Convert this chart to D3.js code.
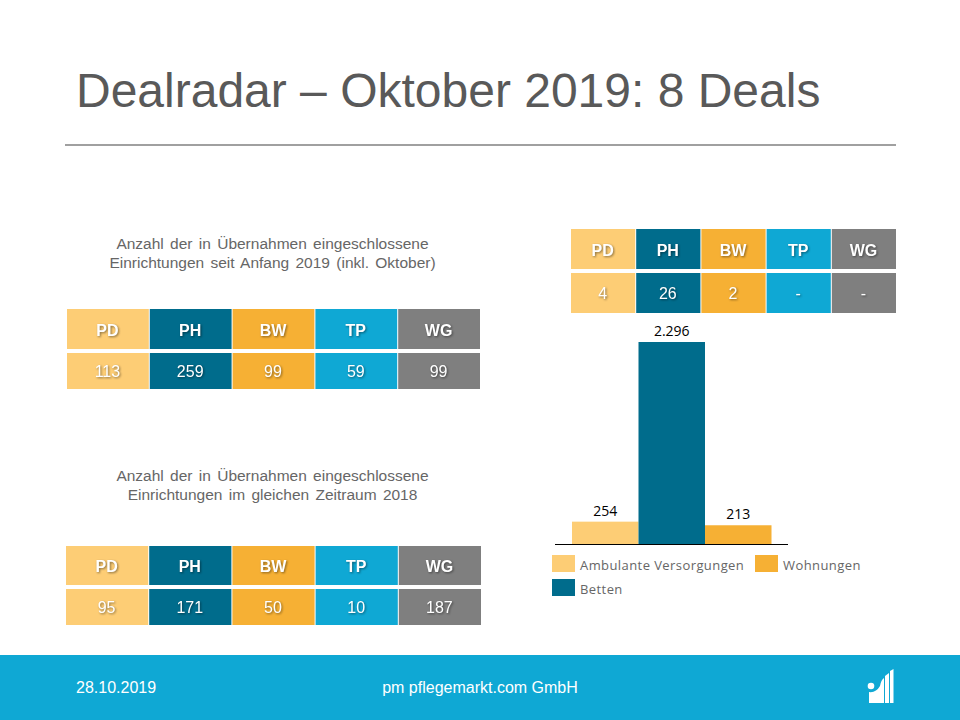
<!DOCTYPE html>
<html>
<head>
<meta charset="utf-8">
<script src="https://cdn.jsdelivr.net/npm/d3@7"></script>
<style>
  html, body { margin: 0; padding: 0; background: #fff; }
  svg { display: block; }
  text { font-family: "Liberation Sans", Arial, sans-serif; }
  .shadow { filter: drop-shadow(1px 1px 1px rgba(0,0,0,0.45)); }
</style>
</head>
<body>
<svg id="chart" width="960" height="720"></svg>
<script>
const categories = ["PD", "PH", "BW", "TP", "WG"];
const colors = ["#fdcd75", "#006c8c", "#f6b034", "#0fa8d4", "#7f7f7f"];

const values2019 = ["113", "259", "99", "59", "99"];
const values2018 = ["95", "171", "50", "10", "187"];
const valuesOctober = ["4", "26", "2", "-", "-"];

const barNames = ["Ambulante Versorgungen", "Betten", "Wohnungen"];
const barLabels = ["254", "2.296", "213"];
const barValues = [254, 2296, 213];
const barColors = ["#fdcd75", "#006c8c", "#f6b034"];

const svg = d3.select("#chart");

// footer and header
svg.append("rect").attr("x", 0).attr("y", 655).attr("width", 960).attr("height", 65).attr("fill", "#0fa8d4");

svg.append("text").attr("x", 76).attr("y", 107)
  .attr("font-size", 48).attr("fill", "#595959")
  .text("Dealradar – Oktober 2019: 8 Deals");

svg.append("line").attr("x1", 65).attr("x2", 896).attr("y1", 145).attr("y2", 145)
  .attr("stroke", "#808080").attr("stroke-width", 1.5);

svg.append("text").attr("x", 76).attr("y", 693).attr("font-size", 16).attr("fill", "#fff").text("28.10.2019");
svg.append("text").attr("x", 480).attr("y", 693).attr("text-anchor", "middle").attr("font-size", 16).attr("fill", "#fff").text("pm pflegemarkt.com GmbH");

// logo in the footer
const logo = svg.append("g").attr("fill", "#fff");
logo.append("circle").attr("cx", 871).attr("cy", 686).attr("r", 3.3);
logo.append("path").attr("d", "M869 703 L869 692 Q876 693 880 686 Q881 680 884 678 L884 703 Z");
logo.append("path").attr("d", "M885 703 L885 676 L889 673 L889 703 Z");
logo.append("path").attr("d", "M890 703 L890 671 L893.5 669 L893.5 703 Z");

// small table: header row and value row
function drawTable(x0, x1, headTop, headBottom, valueTop, valueBottom, values, headSize, valueSize) {
  const x = d3.scaleBand().domain(categories).range([x0, x1]);
  const g = svg.append("g");

  g.selectAll("rect.head").data(categories).enter().append("rect")
    .attr("class", "head")
    .attr("x", d => x(d)).attr("y", headTop)
    .attr("width", x.bandwidth() - 1).attr("height", headBottom - headTop)
    .attr("fill", (d, i) => colors[i]);

  g.selectAll("rect.value").data(categories).enter().append("rect")
    .attr("class", "value")
    .attr("x", d => x(d)).attr("y", valueTop)
    .attr("width", x.bandwidth() - 1).attr("height", valueBottom - valueTop)
    .attr("fill", (d, i) => colors[i]);

  g.selectAll("text.head").data(categories).enter().append("text")
    .attr("class", "head shadow")
    .attr("x", d => x(d) + x.bandwidth() / 2 - 1)
    .attr("y", (headTop + headBottom) / 2 + headSize * 0.36 + 1)
    .attr("text-anchor", "middle").attr("font-size", headSize).attr("font-weight", "bold")
    .attr("fill", "#fff").text(d => d);

  g.selectAll("text.value").data(values).enter().append("text")
    .attr("class", "value shadow")
    .attr("x", (d, i) => x(categories[i]) + x.bandwidth() / 2 - 1)
    .attr("y", (valueTop + valueBottom) / 2 + valueSize * 0.36)
    .attr("text-anchor", "middle").attr("font-size", valueSize)
    .attr("fill", "#fff").text(d => d);
}

drawTable(67, 481, 309, 349, 353, 389, values2019, 16, 16);
drawTable(66, 482, 546, 585, 589, 625, values2018, 16, 16);
drawTable(571, 897, 229, 269, 273, 313, valuesOctober, 16, 16);

// captions
function caption(lines, cx, y) {
  svg.append("g").selectAll("text").data(lines).enter().append("text")
    .attr("x", cx).attr("y", (d, i) => y + i * 19)
    .attr("text-anchor", "middle").attr("font-size", 15.5).attr("fill", "#666")
    .attr("word-spacing", 2).text(d => d);
}
caption(["Anzahl der in Übernahmen eingeschlossene", "Einrichtungen seit Anfang 2019 (inkl. Oktober)"], 272.5, 249);
caption(["Anzahl der in Übernahmen eingeschlossene", "Einrichtungen im gleichen Zeitraum 2018"], 272.5, 481);

// bar chart
const xBar = d3.scaleBand().domain(barNames).range([572, 771.5]);
const yBar = d3.scaleLinear().domain([0, 2296]).range([544, 342]);

svg.append("g").selectAll("rect").data(barValues).enter().append("rect")
  .attr("x", (d, i) => xBar(barNames[i]))
  .attr("y", d => yBar(d))
  .attr("width", xBar.bandwidth())
  .attr("height", d => yBar(0) - yBar(d))
  .attr("fill", (d, i) => barColors[i]);

svg.append("g").selectAll("text").data(barValues).enter().append("text")
  .attr("x", (d, i) => xBar(barNames[i]) + xBar.bandwidth() / 2)
  .attr("y", d => yBar(d) - 6)
  .attr("text-anchor", "middle").attr("font-size", 14).attr("fill", "#000")
  .style("font-family", "'Open Sans', sans-serif")
  .text((d, i) => barLabels[i]);

svg.append("line").attr("x1", 555).attr("x2", 788).attr("y1", 544.5).attr("y2", 544.5)
  .attr("stroke", "#000").attr("stroke-width", 1);

// legend
const legendX = [552, 552, 755];
const legendY = [555, 579, 555];
const legend = svg.append("g").selectAll("g").data(barNames).enter().append("g")
  .attr("transform", (d, i) => `translate(${legendX[i]},${legendY[i]})`);
legend.append("rect").attr("width", 23).attr("height", 17).attr("fill", (d, i) => barColors[i]);
legend.append("text").attr("x", 28).attr("y", 14.5)
  .attr("font-size", 13).attr("fill", "#666").attr("letter-spacing", 0.42)
  .style("font-family", "'Open Sans', sans-serif")
  .text(d => d);
</script>
</body>
</html>
